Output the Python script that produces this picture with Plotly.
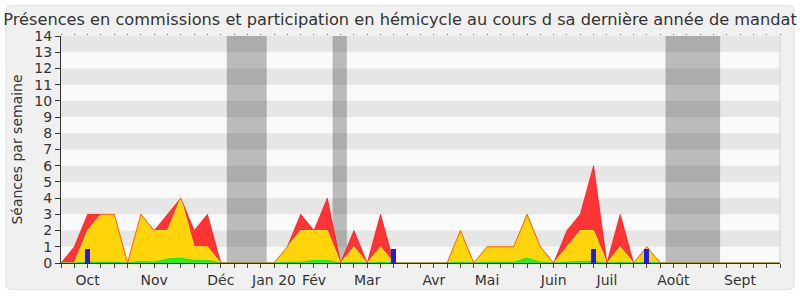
import plotly.graph_objects as go

# ---- data (one value per week) ----
weeks = list(range(55))
total = [0, 1, 3, 3, 3, 0, 3, 2, 3, 4, 2, 3, 0, 0, 0, 0, 0, 1, 3, 2, 4, 0, 2, 0, 3, 0,
         0, 0, 0, 0, 2, 0, 1, 1, 1, 3, 1, 0, 2, 3, 6, 0, 3, 0, 1,
         0, 0, 0, 0, 0, 0, 0, 0, 0, 0]
commission = [0, 0, 2, 3, 3, 0, 3, 2, 2, 4, 1, 1, 0, 0, 0, 0, 0, 1, 2, 2, 2, 0, 1, 0, 1, 0,
              0, 0, 0, 0, 2, 0, 1, 1, 1, 3, 1, 0, 1, 2, 2, 0, 1, 0, 1,
              0, 0, 0, 0, 0, 0, 0, 0, 0, 0]
hemicycle = [0, 0, 0.05, 0.05, 0.05, 0, 0.1, 0.05, 0.25, 0.3, 0.15, 0.15, 0, 0, 0, 0, 0,
             0.05, 0.05, 0.15, 0.15, 0, 0.05, 0, 0.05, 0,
             0, 0, 0, 0, 0.05, 0, 0.05, 0.05, 0.05, 0.3, 0.05, 0, 0.05, 0.1, 0.1, 0, 0.05, 0, 0.05,
             0, 0, 0, 0, 0, 0, 0, 0, 0, 0]
question_weeks = [2, 25, 40, 44]
question_values = [0.85, 0.85, 0.85, 0.85]

vacances_start = [12.45, 20.4, 45.4]
vacances_end = [15.45, 21.47, 49.5]

month_weeks = [2, 7, 12, 16, 19, 23, 28, 32, 37, 41, 46, 51]
month_labels = ["Oct", "Nov", "Déc", "Jan 20", "Fév", "Mar", "Avr", "Mai", "Juin", "Juil", "Août", "Sept"]

title = "Présences en commissions et participation en hémicycle au cours d sa dernière année de mandat"
ytitle = "Séances par semaine"

FONT = "DejaVu Sans"
W, H = 800, 300
L, R, T, B = 61, 20, 36, 34
PW, PH = W - L - R, H - T - B

fig = go.Figure()

fig.add_trace(go.Scatter(x=weeks, y=total, mode="lines", fill="tozeroy",
                         fillcolor="rgb(255,52,52)", line=dict(color="rgba(255,0,0,0)", width=0),
                         hoverinfo="skip", showlegend=False))
fig.add_trace(go.Scatter(x=weeks, y=commission, mode="lines", fill="tozeroy",
                         fillcolor="rgb(255,212,10)", line=dict(color="rgb(255,240,40)", width=1),
                         hoverinfo="skip", showlegend=False))
fig.add_trace(go.Scatter(x=weeks, y=hemicycle, mode="lines", fill="tozeroy",
                         fillcolor="rgb(40,240,20)", line=dict(color="rgb(20,230,20)", width=1),
                         hoverinfo="skip", showlegend=False))
fig.add_trace(go.Scatter(x=weeks, y=total, mode="lines",
                         line=dict(color="rgba(255,0,0,0.6)", width=1),
                         hoverinfo="skip", showlegend=False))
# questions drawn on an overlaid subplot so they sit above the areas
fig.add_trace(go.Bar(x=question_weeks, y=question_values, width=0.38,
                     xaxis="x2", yaxis="y2",
                     marker=dict(color="rgb(30,30,220)", line=dict(width=0)),
                     hoverinfo="skip", showlegend=False))

shapes = []
# rounded background panel (pixel -> paper coordinates)
def px(xp):
    return (xp - L) / PW
def py(yp):
    return (H - B - yp) / PH
x0, x1, y0, y1, r = 6, 794, 5, 293, 6
rx, ry = r / PW, r / PH
path = (f"M {px(x0)+rx},{py(y0)} L {px(x1)-rx},{py(y0)} Q {px(x1)},{py(y0)} {px(x1)},{py(y0)-ry} "
        f"L {px(x1)},{py(y1)+ry} Q {px(x1)},{py(y1)} {px(x1)-rx},{py(y1)} "
        f"L {px(x0)+rx},{py(y1)} Q {px(x0)},{py(y1)} {px(x0)},{py(y1)+ry} "
        f"L {px(x0)},{py(y0)-ry} Q {px(x0)},{py(y0)} {px(x0)+rx},{py(y0)} Z")
shapes.append(dict(type="path", path=path, xref="paper", yref="paper",
                   fillcolor="#f0f0f0", line=dict(color="#e0e0e0", width=1), layer="below"))
# plot background
shapes.append(dict(type="rect", xref="paper", yref="paper", x0=0, x1=1, y0=0, y1=1,
                   fillcolor="#fafafa", line=dict(width=0), layer="below"))
# alternating rows
for k in range(1, 14, 2):
    shapes.append(dict(type="rect", xref="paper", yref="y", x0=0, x1=1, y0=k, y1=k + 1,
                       fillcolor="#e6e6e6", line=dict(width=0), layer="below"))
# holidays
for s, e in zip(vacances_start, vacances_end):
    shapes.append(dict(type="rect", xref="x", yref="paper", x0=s, x1=e, y0=0, y1=1,
                       fillcolor="rgba(0,0,0,0.25)", line=dict(width=0), layer="below"))
# right border of plot
shapes.append(dict(type="line", xref="paper", yref="paper", x0=1, x1=1, y0=0, y1=1,
                   line=dict(color="#d4d4d4", width=1), layer="above"))

ticktext = [""] * len(weeks)
for w, lab in zip(month_weeks, month_labels):
    ticktext[w] = lab

fig.update_layout(
    width=W, height=H, autosize=False,
    margin=dict(l=L, r=R, t=T, b=B, pad=0),
    paper_bgcolor="white", plot_bgcolor="rgba(0,0,0,0)",
    font=dict(family=FONT, size=14, color="#333"),
    title=dict(text=title, x=0.5, xref="container", xanchor="center",
               y=(H - 19) / H, yref="container", yanchor="middle",
               font=dict(family=FONT, size=16.2, color="#333")),
    shapes=shapes,
    bargap=0,
    xaxis=dict(range=[0, 54], tickmode="array", tickvals=weeks, ticktext=ticktext,
               ticks="outside", ticklen=4, tickcolor="#444", tickwidth=1,
               showline=True, linecolor="rgb(90,30,10)", linewidth=1,
               showgrid=False, zeroline=False, fixedrange=True,
               tickfont=dict(family=FONT, size=14, color="#333")),
    xaxis2=dict(range=[0, 54], overlaying="x", side="top", anchor="y2",
                tickmode="array", tickvals=weeks, showticklabels=False,
                ticks="outside", ticklen=1, tickcolor="#666", showline=False,
                showgrid=False, zeroline=False, fixedrange=True),
    yaxis=dict(range=[0, 14], tickmode="array", tickvals=list(range(15)),
               ticks="outside", ticklen=5, tickcolor="#333", tickwidth=1,
               showline=True, linecolor="#333", linewidth=1,
               showgrid=False, zeroline=False, fixedrange=True,
               title=dict(text=ytitle, standoff=8, font=dict(family=FONT, size=14, color="#333")),
               tickfont=dict(family=FONT, size=14, color="#333")),
    yaxis2=dict(range=[0, 14], overlaying="y", anchor="x2", visible=False,
                showgrid=False, zeroline=False, fixedrange=True),
)

fig.write_html("out.html")
